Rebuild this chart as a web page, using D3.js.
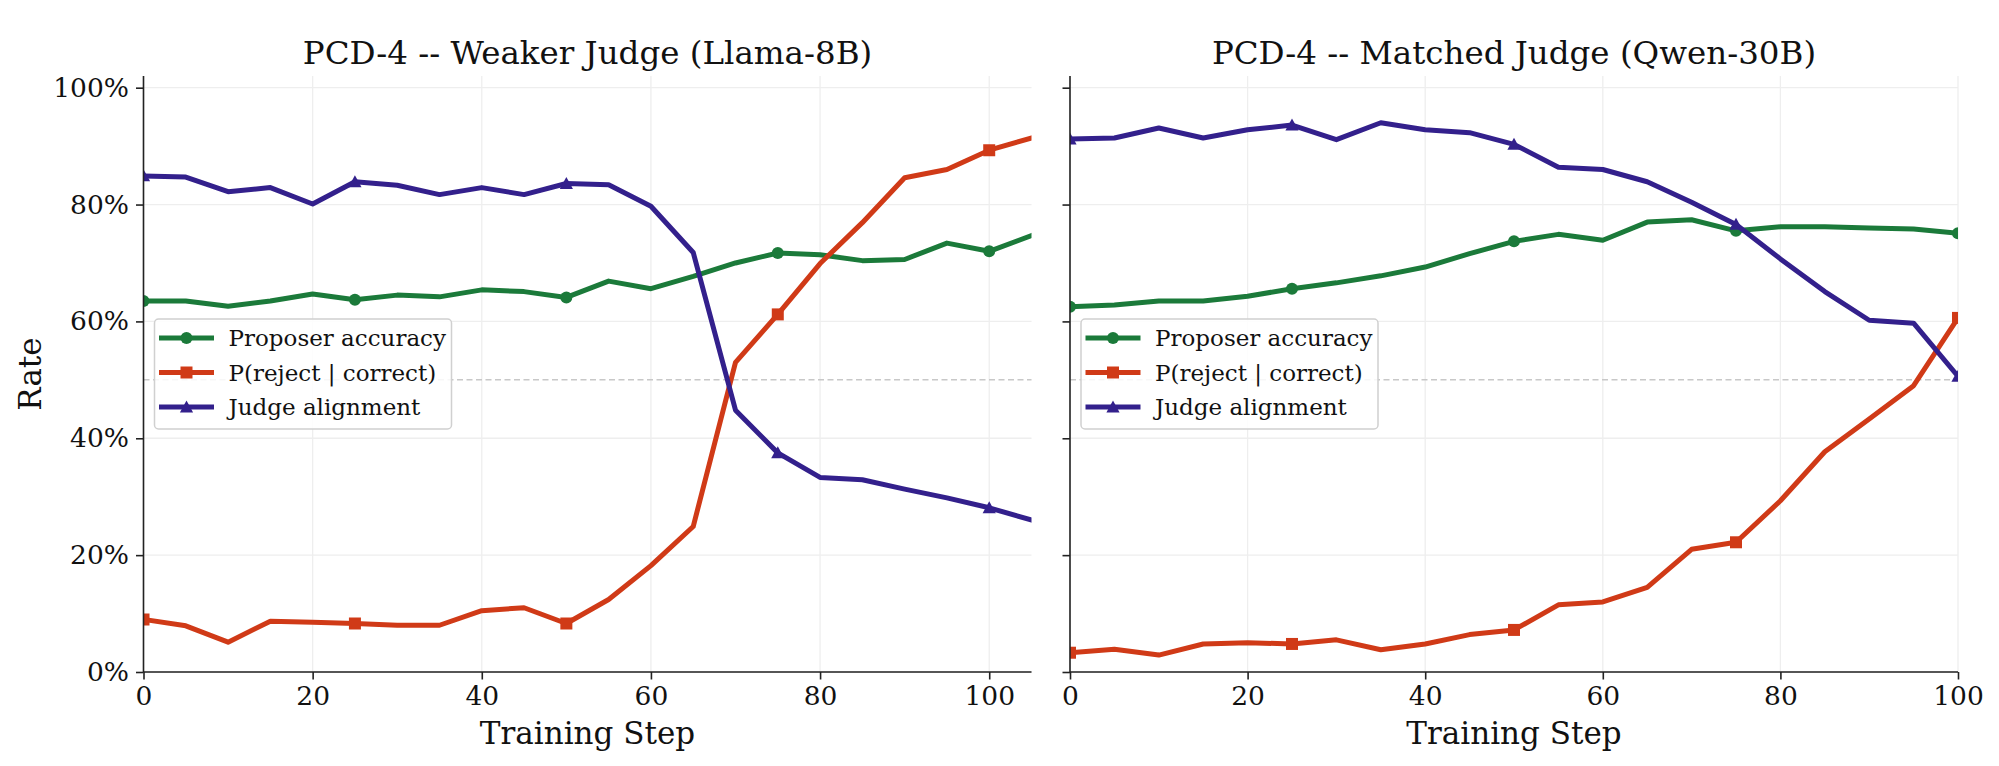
<!DOCTYPE html>
<html>
<head>
<meta charset="utf-8">
<script src="https://cdn.jsdelivr.net/npm/d3@7"></script>
<style>
  body { margin: 0; background: #fff; }
  svg { display: block; }
</style>
</head>
<body>
<div id="chart"></div>
<script>

// training steps (x categories)
var stepsWeak = [0, 5, 10, 15, 20, 25, 30, 35, 40, 45, 50, 55, 60, 65, 70, 75, 80, 85, 90, 95, 100, 105];
var stepsMatched = [0, 5, 10, 15, 20, 25, 30, 35, 40, 45, 50, 55, 60, 65, 70, 75, 80, 85, 90, 95, 100];

// weaker judge (Llama-8B), values in %
var accWeak = [63.5, 63.5, 62.6, 63.5, 64.7, 63.7, 64.5, 64.2, 65.4, 65.1, 64.1, 66.9, 65.6, 67.7, 70.0, 71.7, 71.4, 70.4, 70.6, 73.4, 72.0, 74.7];
var rejWeak = [9.0, 7.9, 5.1, 8.7, 8.5, 8.3, 8.0, 8.0, 10.5, 11.0, 8.3, 12.4, 18.2, 24.9, 53.0, 61.2, 69.9, 76.9, 84.6, 86.0, 89.3, 91.4];
var aliWeak = [84.9, 84.7, 82.2, 82.9, 80.1, 83.9, 83.3, 81.7, 82.9, 81.7, 83.6, 83.4, 79.7, 71.8, 44.8, 37.5, 33.3, 32.9, 31.3, 29.8, 28.1, 26.0];

// matched judge (Qwen-30B), values in %
var accMatched = [62.5, 62.8, 63.5, 63.5, 64.3, 65.6, 66.6, 67.8, 69.3, 71.6, 73.7, 74.9, 73.9, 77.0, 77.4, 75.5, 76.2, 76.2, 76.0, 75.8, 75.1];
var rejMatched = [3.3, 3.9, 2.9, 4.8, 5.0, 4.8, 5.5, 3.8, 4.8, 6.4, 7.2, 11.5, 12.0, 14.5, 21.0, 22.2, 29.3, 37.7, 43.3, 49.0, 60.6];
var aliMatched = [91.2, 91.4, 93.1, 91.4, 92.8, 93.6, 91.1, 94.0, 92.8, 92.3, 90.3, 86.4, 86.0, 83.9, 80.4, 76.6, 70.7, 65.1, 60.2, 59.7, 50.6];

var seriesNames = ['Proposer accuracy', 'P(reject | correct)', 'Judge alignment'];
var seriesColors = ['#1b7a3a', '#d03a17', '#33208c'];
var seriesMarkers = ['circle', 'square', 'triangle'];
var yTicks = [0, 20, 40, 60, 80, 100];
var xTicks = [0, 20, 40, 60, 80, 100];

var panels = [
  { title: 'PCD-4 -- Weaker Judge (Llama-8B)', steps: stepsWeak, values: [accWeak, rejWeak, aliWeak], xMax: 105, left: 143.5, showY: true },
  { title: 'PCD-4 -- Matched Judge (Qwen-30B)', steps: stepsMatched, values: [accMatched, rejMatched, aliMatched], xMax: 100, left: 1070, showY: false }
];

var attrs = {
  width: 1999,
  height: 766,
  plotWidth: 888,
  top: 76,
  bottom: 672,
  font: "'DejaVu Serif', serif",
  titleSize: 32.5,
  labelSize: 31,
  tickSize: 26.5,
  legendSize: 23,
  lineWidth: 5,
  markerSize: 12,
  markEvery: 5
};

var svg = d3.select('#chart').append('svg')
  .attr('width', attrs.width)
  .attr('height', attrs.height)
  .style('font-family', attrs.font);

// marker path builder
function markerPath(type, size) {
  var h = size / 2;
  if (type === 'circle') return d3.symbol(d3.symbolCircle, Math.PI * h * h)();
  if (type === 'square') return 'M' + (-h) + ',' + (-h) + 'H' + h + 'V' + h + 'H' + (-h) + 'Z';
  return 'M0,' + (-h * 1.1) + 'L' + (h * 1.1) + ',' + (h * 0.9) + 'L' + (-h * 1.1) + ',' + (h * 0.9) + 'Z';
}

var y = d3.scaleLinear().domain([0, 102]).range([attrs.bottom, attrs.top]);

panels.forEach(function (p, pi) {
  var x = d3.scaleLinear().domain([0, p.xMax]).range([p.left, p.left + attrs.plotWidth]);
  var g = svg.append('g').attr('class', 'panel-' + pi);

  // clip
  var clipId = 'clip-' + pi;
  svg.append('clipPath').attr('id', clipId).append('rect')
    .attr('x', p.left).attr('y', attrs.top)
    .attr('width', attrs.plotWidth).attr('height', attrs.bottom - attrs.top);

  // grid
  g.append('g').selectAll('line.gy').data(yTicks).enter().append('line')
    .attr('x1', p.left).attr('x2', p.left + attrs.plotWidth)
    .attr('y1', d => y(d)).attr('y2', d => y(d))
    .attr('stroke', '#eeeeee').attr('stroke-width', 1.3);
  g.append('g').selectAll('line.gx').data(xTicks).enter().append('line')
    .attr('x1', d => x(d)).attr('x2', d => x(d))
    .attr('y1', attrs.top).attr('y2', attrs.bottom)
    .attr('stroke', '#eeeeee').attr('stroke-width', 1.3);

  // 50% reference line
  g.append('line')
    .attr('x1', p.left).attr('x2', p.left + attrs.plotWidth)
    .attr('y1', y(50)).attr('y2', y(50))
    .attr('stroke', '#c8c8c8').attr('stroke-width', 1.5)
    .attr('stroke-dasharray', '6,3.5');

  // series lines + markers
  var plot = g.append('g').attr('clip-path', 'url(#' + clipId + ')');
  p.values.forEach(function (vals, si) {
    var pts = p.steps.map((s, i) => [s, vals[i]]);
    plot.append('path')
      .datum(pts)
      .attr('fill', 'none')
      .attr('stroke', seriesColors[si])
      .attr('stroke-width', attrs.lineWidth)
      .attr('stroke-linejoin', 'round')
      .attr('stroke-linecap', 'square')
      .attr('d', d3.line().x(d => x(d[0])).y(d => y(d[1])));
    plot.selectAll('path.m' + si)
      .data(pts.filter((d, i) => i % attrs.markEvery === 0))
      .enter().append('path')
      .attr('transform', d => 'translate(' + x(d[0]) + ',' + y(d[1]) + ')')
      .attr('d', markerPath(seriesMarkers[si], attrs.markerSize))
      .attr('fill', seriesColors[si]);
  });

  // axes
  var yAxis = d3.axisLeft(y).tickValues(yTicks).tickSize(7.5).tickPadding(7)
    .tickFormat(d => p.showY ? d + '%' : '');
  var xAxis = d3.axisBottom(x).tickValues(xTicks).tickSize(7.5).tickPadding(7);

  var ya = g.append('g').attr('transform', 'translate(' + p.left + ',0)').call(yAxis);
  var xa = g.append('g').attr('transform', 'translate(0,' + attrs.bottom + ')').call(xAxis);
  [ya, xa].forEach(function (a) {
    a.select('.domain').attr('stroke', '#222').attr('stroke-width', 1.6)
      .attr('d', a === ya ? 'M0,' + attrs.top + 'V' + attrs.bottom : 'M' + p.left + ',0H' + (p.left + attrs.plotWidth));
    a.selectAll('.tick line').attr('stroke', '#222').attr('stroke-width', 1.6);
    a.selectAll('.tick text').attr('fill', '#111')
      .style('font-size', attrs.tickSize + 'px').style('font-family', attrs.font);
  });

  // title
  g.append('text')
    .attr('x', p.left + attrs.plotWidth / 2).attr('y', 64)
    .attr('text-anchor', 'middle')
    .style('font-size', attrs.titleSize + 'px').attr('fill', '#111')
    .text(p.title);

  // x label
  g.append('text')
    .attr('x', p.left + attrs.plotWidth / 2).attr('y', 744)
    .attr('text-anchor', 'middle')
    .style('font-size', attrs.labelSize + 'px').attr('fill', '#111')
    .text('Training Step');

  if (p.showY) {
    g.append('text')
      .attr('transform', 'translate(41,' + ((attrs.top + attrs.bottom) / 2) + ') rotate(-90)')
      .attr('text-anchor', 'middle')
      .style('font-size', attrs.labelSize + 'px').attr('fill', '#111')
      .text('Rate');
  }

  // legend
  var lg = g.append('g').attr('transform', 'translate(' + (p.left + 11) + ',319)');
  lg.append('rect')
    .attr('width', 297).attr('height', 110)
    .attr('rx', 4)
    .attr('fill', 'rgba(255,255,255,0.85)')
    .attr('stroke', '#d0d0d0').attr('stroke-width', 1.5);
  seriesNames.forEach(function (name, si) {
    var ry = 19 + si * 34.5;
    var row = lg.append('g').attr('transform', 'translate(0,' + ry + ')');
    row.append('line')
      .attr('x1', 7).attr('x2', 57).attr('y1', 0).attr('y2', 0)
      .attr('stroke', seriesColors[si]).attr('stroke-width', attrs.lineWidth)
      .attr('stroke-linecap', 'square');
    row.append('path')
      .attr('transform', 'translate(32,0)')
      .attr('d', markerPath(seriesMarkers[si], attrs.markerSize))
      .attr('fill', seriesColors[si]);
    row.append('text')
      .attr('x', 74).attr('y', 0).attr('dy', '0.35em')
      .style('font-size', attrs.legendSize + 'px').attr('fill', '#111')
      .text(name);
  });
});

</script>
</body>
</html>
